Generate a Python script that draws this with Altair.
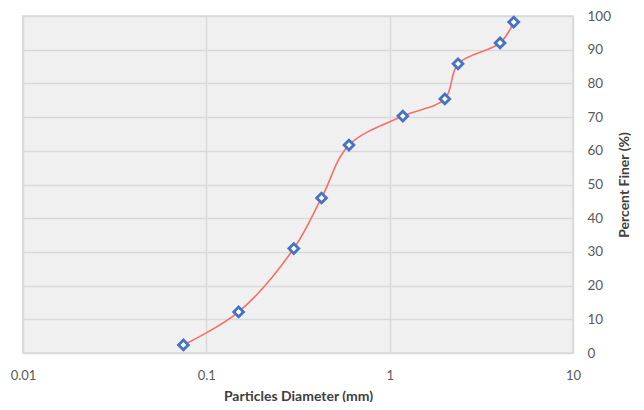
import altair as alt
import pandas as pd

diameter = [0.075, 0.15, 0.3, 0.425, 0.6, 1.18, 2.0, 2.36, 4.0, 4.75]
finer = [2.4, 12.2, 31.0, 46.0, 61.7, 70.3, 75.4, 85.8, 92.0, 98.2]
x_ticks = [0.01, 0.1, 1, 10]
y_ticks = list(range(0, 101, 10))

df = pd.DataFrame({"d": diameter, "p": finer})

FONT = "Lato"
x = alt.X("d:Q",
          scale=alt.Scale(type="log", domain=[0.01, 10], nice=False),
          axis=alt.Axis(values=x_ticks, format="~g", title="Particles Diameter (mm)",
                        grid=True, ticks=False, domain=False, labelPadding=16,
                        titlePadding=7, labelFontSize=13, titleFontSize=14,
                        labelFont=FONT, titleFont=FONT, labelColor="#595959",
                        titleColor="#404040", titleFontWeight="bold",
                        gridColor="#d9d9d9", gridWidth=1.5, labelFlush=False))
y = alt.Y("p:Q",
          scale=alt.Scale(domain=[0, 100], nice=False),
          axis=alt.Axis(values=y_ticks, orient="right", title="Percent Finer (%)",
                        grid=True, ticks=False, domain=False, labelPadding=14,
                        titlePadding=21, titleAngle=270, labelFontSize=13.5,
                        titleFontSize=14, labelFont=FONT, titleFont=FONT,
                        labelColor="#595959", titleColor="#404040",
                        titleFontWeight="bold", gridColor="#d9d9d9", gridWidth=1.5,
                        labelAlign="left"))

line = alt.Chart(df).mark_line(color="#f4706a", strokeWidth=1.6,
                               interpolate="catmull-rom").encode(x=x, y=y)
pts = alt.Chart(df).mark_point(shape="diamond", filled=True, fill="white",
                               stroke="#4472c4", strokeWidth=2.8, size=95,
                               opacity=1).encode(x=x, y=y)

chart = (line + pts).properties(
    width=550, height=337,
    autosize="none",
    padding={"left": 15, "top": 8, "right": 63, "bottom": 49},
).configure_view(fill="#f0f0f0", stroke="#d9d9d9", strokeWidth=1.5)

chart.save("out.html", embed_options={"renderer": "svg", "actions": False})
